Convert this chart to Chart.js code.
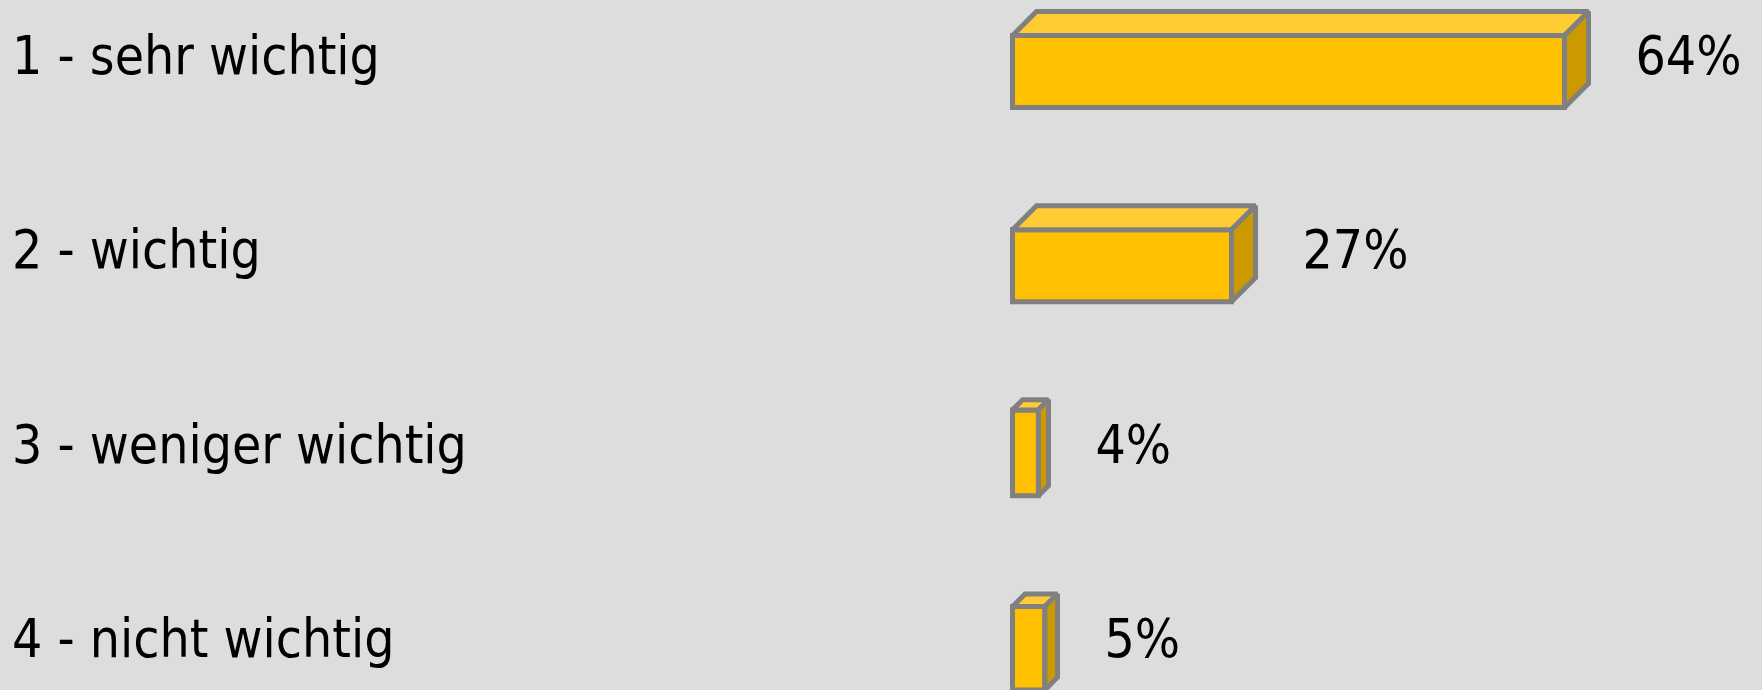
<!DOCTYPE html>
<html><head><meta charset="utf-8">
<script src="https://cdn.jsdelivr.net/npm/chart.js@4/dist/chart.umd.min.js"></script>
<style>
html,body{margin:0;padding:0;background:#dddddd;overflow:hidden;width:1762px;height:690px;}
#wrap{position:absolute;left:0;top:-38px;width:1762px;height:777px;}
</style></head><body>
<div id="wrap"><canvas id="c"></canvas></div>
<script>
const categories = ['1 - sehr wichtig', '2 - wichtig', '3 - weniger wichtig', '4 - nicht wichtig'];
const values = [64, 27, 4, 5];
const valueLabels = ['64%', '27%', '4%', '5%'];
const axisMin = 0;
const axisMax = 80;

const FONT_FAMILY = '"DejaVu Sans Condensed", "DejaVu Sans", sans-serif';
const FONT_SIZE = 53;
const TEXT_SHIFT = 1;

function poly(ctx, pts, fill) {
  ctx.beginPath();
  ctx.moveTo(pts[0][0], pts[0][1]);
  for (let k = 1; k < pts.length; k++) ctx.lineTo(pts[k][0], pts[k][1]);
  ctx.closePath();
  ctx.fillStyle = fill;
  ctx.fill();
  ctx.stroke();
}

const box3d = {
  id: 'box3d',
  afterDatasetsDraw(chart) {
    const ctx = chart.ctx;
    const meta = chart.getDatasetMeta(0);
    ctx.save();
    ctx.lineWidth = 5;
    ctx.strokeStyle = '#808080';
    ctx.lineJoin = 'miter';
    ctx.miterLimit = 2;
    meta.data.forEach((bar, i) => {
      const p = bar.getProps(['x', 'y', 'base', 'height'], true);
      const L = Math.min(p.base, p.x), R = Math.max(p.base, p.x);
      const T = p.y - p.height / 2, B = p.y + p.height / 2;
      const d = Math.min(0.25 * (B - T), 0.28 * (R - L));
      poly(ctx, [[L, T + d], [R - d, T + d], [R - d, B], [L, B]], '#FFC000');
      poly(ctx, [[L, T + d], [L + d, T], [R, T], [R - d, T + d]], '#FFCC33');
      poly(ctx, [[R - d, T + d], [R, T], [R, B - d], [R - d, B]], '#CC9900');
      ctx.fillStyle = '#000000';
      ctx.font = FONT_SIZE + 'px ' + FONT_FAMILY;
      ctx.textAlign = 'left';
      ctx.textBaseline = 'middle';
      ctx.fillText(valueLabels[i], R + 47, p.y + TEXT_SHIFT);
    });
    ctx.restore();
  }
};

new Chart(document.getElementById('c'), {
  type: 'bar',
  data: {
    labels: categories,
    datasets: [{
      data: values,
      backgroundColor: 'rgba(0,0,0,0)',
      borderWidth: 0,
      barThickness: 96
    }]
  },
  options: {
    indexAxis: 'y',
    responsive: true,
    maintainAspectRatio: false,
    animation: false,
    devicePixelRatio: 1,
    layout: { padding: { left: 12, right: 29.5, top: 0.5, bottom: 0 } },
    plugins: { legend: { display: false }, tooltip: { enabled: false } },
    scales: {
      x: { display: false, min: axisMin, max: axisMax },
      y: {
        offset: true,
        grid: { display: false },
        border: { display: false },
        ticks: {
          crossAlign: 'far',
          labelOffset: TEXT_SHIFT,
          color: '#000000',
          font: { family: FONT_FAMILY, size: FONT_SIZE }
        },
        afterFit(scale) {
          scale.width = 1012.5 - 12;
          scale.paddingTop = 0;
          scale.paddingBottom = 0;
        }
      }
    }
  },
  plugins: [box3d]
});
</script>
</body></html>
